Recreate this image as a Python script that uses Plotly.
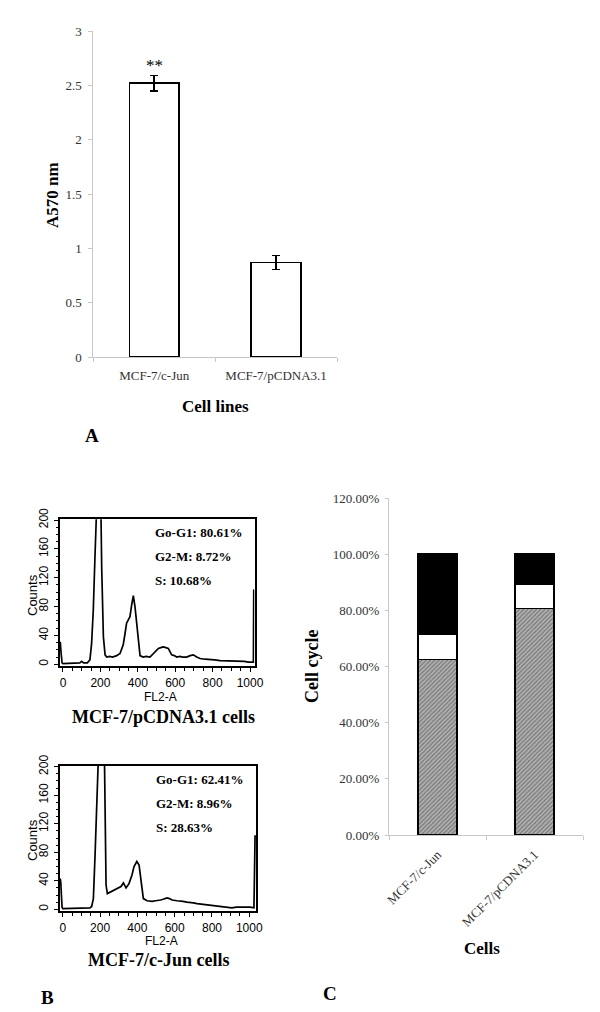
import plotly.graph_objects as go

# ---------------- data ----------------
cell_lines = ["MCF-7/c-Jun", "MCF-7/pCDNA3.1"]
a570 = [2.52, 0.87]
a570_err = [0.07, 0.065]

# flow cytometry histogram, MCF-7/pCDNA3.1 (channel, counts)
h1_channel = [-16, -14, -11, -8, -5, 0, 20, 45, 70, 90, 100, 110, 130, 144, 153, 162, 171, 176,
              183, 190, 197, 203, 207, 216, 225, 234, 250, 265, 287, 305, 322, 332, 340, 350,
              358, 367, 376, 385, 394, 403, 412, 428, 445, 465, 483, 497, 510, 523, 536, 550,
              563, 581, 595, 608, 625, 640, 661, 680, 697, 715, 733, 760, 786, 810, 840, 865,
              893, 920, 947, 970, 991, 1010, 1018, 1020, 1021]
h1_counts = [31, 30, 18, 6, 2, 1, 1, 2, 1, 2, 4, 2, 2, 6, 29, 75, 149, 210,
             240, 235, 240, 210, 133, 38, 13, 10, 11, 10, 12, 15, 27, 43, 57, 62,
             66, 82, 95, 80, 57, 29, 12, 10, 11, 10, 15, 18, 22, 23, 24, 23,
             22, 13, 12, 10, 11, 10, 10, 12, 13, 10, 8, 7, 6, 6, 5, 5,
             4, 5, 4, 4, 3, 3, 3, 103, 103]

# flow cytometry histogram, MCF-7/c-Jun (channel, counts)
h2_channel = [-15, -13, -11, -8, -4, 0, 40, 80, 120, 145, 155, 164, 173, 182, 191, 200, 210,
              223, 227, 232, 239, 253, 268, 280, 296, 312, 325, 339, 355, 371, 382, 397, 409,
              420, 432, 452, 479, 497, 511, 525, 538, 559, 572, 586, 612, 628, 644, 665, 682,
              700, 720, 752, 789, 810, 827, 850, 870, 907, 930, 950, 982, 1004, 1025, 1030, 1031]
h2_counts = [43, 42, 38, 20, 3, 1, 1, 1, 1, 2, 4, 15, 76, 142, 215, 240, 240,
             220, 123, 34, 22, 24, 26, 27, 30, 32, 37, 30, 36, 48, 60, 67, 62,
             40, 15, 12, 11, 12, 12, 13, 14, 16, 15, 13, 12, 12, 11, 10, 9,
             9, 8, 7, 6, 5, 4, 4, 3, 2, 3, 3, 4, 3, 2, 104, 104]

# cell cycle distribution (fractions)
g0g1 = [0.6241, 0.8061]
g2m = [0.0896, 0.0872]
s_phase = [0.2863, 0.1068]

a_ticks = [0, 0.5, 1, 1.5, 2, 2.5, 3]
a_ticktext = ["0", "0.5", "1", "1.5", "2", "2.5", "3"]
c_ticks = [0, 0.2, 0.4, 0.6, 0.8, 1.0, 1.2]
c_ticktext = ["0.00%", "20.00%", "40.00%", "60.00%", "80.00%", "100.00%", "120.00%"]
h_xticks = [0, 200, 400, 600, 800, 1000]
h_yticks = [0, 40, 80, 120, 160, 200]

# ---------------- figure ----------------
W, H = 600, 1012
SERIF = "Liberation Serif"
SANS = "Liberation Sans"


def px_x(p):
    return p / W


def px_y(p):
    return 1 - p / H


fig = go.Figure()

# Panel A
fig.add_trace(go.Bar(
    x=cell_lines, y=a570, width=0.41,
    marker=dict(color="white", line=dict(color="black", width=1.5)),
    error_y=dict(type="data", array=a570_err, color="black", thickness=1.5, width=4),
    xaxis="x", yaxis="y", showlegend=False))

# Panel B histograms
fig.add_trace(go.Scatter(x=h1_channel, y=h1_counts, mode="lines",
                         line=dict(color="black", width=1.7),
                         xaxis="x2", yaxis="y2", showlegend=False))
fig.add_trace(go.Scatter(x=h2_channel, y=h2_counts, mode="lines",
                         line=dict(color="black", width=1.7),
                         xaxis="x3", yaxis="y3", showlegend=False))

# Panel C stacked bars
fig.add_trace(go.Bar(
    x=cell_lines, y=g0g1, width=0.4, name="Go-G1",
    marker=dict(color="#a0a0a0", line=dict(color="black", width=1.5),
                pattern=dict(shape="/", fgcolor="#3c3c3c", bgcolor="#b2b2b2",
                             size=3, solidity=0.4)),
    xaxis="x4", yaxis="y4", showlegend=False))
fig.add_trace(go.Bar(
    x=cell_lines, y=g2m, width=0.4, name="G2-M",
    marker=dict(color="white", line=dict(color="black", width=1.5)),
    xaxis="x4", yaxis="y4", showlegend=False))
fig.add_trace(go.Bar(
    x=cell_lines, y=s_phase, width=0.4, name="S",
    marker=dict(color="black", line=dict(color="black", width=1.5)),
    xaxis="x4", yaxis="y4", showlegend=False))

light = "#c8c8c8"
tickfont_serif = dict(family=SERIF, size=13, color="#333")
hist_tickfont = dict(family=SANS, size=12, color="black")

common = dict(automargin=False, showgrid=False, zeroline=False)

layout_axes = dict(
    # Panel A
    xaxis=dict(domain=[px_x(93.3), px_x(337)], anchor="y", type="category",
               range=[-0.5, 1.5], showline=True, linecolor=light, linewidth=1,
               ticks="outside", tickson="boundaries", ticklen=4, tickcolor=light,
               tickfont=tickfont_serif, ticklabelstandoff=6, **common),
    yaxis=dict(domain=[px_y(357), px_y(31)], anchor="x", range=[0, 3],
               tickvals=a_ticks, ticktext=a_ticktext, showline=True, linecolor=light,
               linewidth=1, ticks="outside", ticklen=4, tickcolor=light,
               tickfont=tickfont_serif, ticklabelstandoff=4, **common),
    # Histogram 1
    xaxis2=dict(domain=[px_x(60), px_x(254.5)], anchor="y2", range=[-16, 1024],
                tickvals=h_xticks, showline=True, mirror=True, linecolor="black",
                linewidth=1.5, ticks="outside", ticklen=4, tickcolor="black",
                minor=dict(dtick=50, ticks="outside", ticklen=3, tickcolor="black"),
                tickfont=hist_tickfont, ticklabelstandoff=1, **common),
    yaxis2=dict(domain=[px_y(666), px_y(519.3)], anchor="x2", range=[-2.4, 201],
                tickvals=h_yticks, tickangle=-90, showline=True, mirror=True,
                linecolor="black", linewidth=1.5, ticks="outside", ticklen=4,
                tickcolor="black",
                minor=dict(dtick=10, ticks="outside", ticklen=2.5, tickcolor="black"),
                tickfont=hist_tickfont, ticklabelstandoff=1, **common),
    # Histogram 2
    xaxis3=dict(domain=[px_x(60), px_x(256)], anchor="y3", range=[-15, 1036],
                tickvals=h_xticks, showline=True, mirror=True, linecolor="black",
                linewidth=1.5, ticks="outside", ticklen=4, tickcolor="black",
                minor=dict(dtick=50, ticks="outside", ticklen=3, tickcolor="black"),
                tickfont=hist_tickfont, ticklabelstandoff=1, **common),
    yaxis3=dict(domain=[px_y(911), px_y(766)], anchor="x3", range=[-2.4, 201],
                tickvals=h_yticks, tickangle=-90, showline=True, mirror=True,
                linecolor="black", linewidth=1.5, ticks="outside", ticklen=4,
                tickcolor="black",
                minor=dict(dtick=10, ticks="outside", ticklen=2.5, tickcolor="black"),
                tickfont=hist_tickfont, ticklabelstandoff=1, **common),
    # Panel C
    xaxis4=dict(domain=[px_x(389), px_x(583)], anchor="y4", type="category",
                range=[-0.5, 1.5], showline=True, linecolor=light, linewidth=1,
                ticks="outside", tickson="boundaries", ticklen=4, tickcolor=light,
                tickangle=-45, tickfont=tickfont_serif, ticklabelstandoff=6, **common),
    yaxis4=dict(domain=[px_y(835), px_y(498)], anchor="x4", range=[0, 1.2],
                tickvals=c_ticks, ticktext=c_ticktext, showline=True, linecolor=light,
                linewidth=1, ticks="outside", ticklen=3, tickcolor=light,
                tickfont=tickfont_serif, ticklabelstandoff=3, **common),
)


def ann(text, x, y, size, family=SERIF, bold=True, angle=0, xanchor="center", color="black"):
    return dict(text=("<b>%s</b>" % text) if bold else text, x=px_x(x), y=px_y(y),
                xref="paper", yref="paper", showarrow=False, textangle=angle,
                xanchor=xanchor, yanchor="middle",
                font=dict(family=family, size=size, color=color))


annotations = [
    # Panel A
    ann("A570 nm", 52, 195, 17, angle=-90),
    ann("Cell lines", 215, 406, 17),
    ann("A", 92, 435, 19),
    dict(text="**", x=cell_lines[0], y=2.68, xref="x", yref="y", showarrow=False,
         yanchor="middle", font=dict(family=SERIF, size=17, color="black")),
    # Histogram 1
    ann("Counts", 32, 595, 13, family=SANS, bold=False, angle=-90),
    ann("FL2-A", 160, 697, 12, family=SANS, bold=False),
    ann("MCF-7/pCDNA3.1 cells", 163, 717, 18),
    ann("Go-G1: 80.61%", 152.7, 532.5, 13, xanchor="left"),
    ann("G2-M: 8.72%", 152.7, 556.5, 13, xanchor="left"),
    ann("S: 10.68%", 152.7, 580.5, 13, xanchor="left"),
    # Histogram 2
    ann("Counts", 32, 840, 13, family=SANS, bold=False, angle=-90),
    ann("FL2-A", 161, 941, 12, family=SANS, bold=False),
    ann("MCF-7/c-Jun cells", 158.5, 960, 18),
    ann("Go-G1: 62.41%", 154, 779, 13, xanchor="left"),
    ann("G2-M: 8.96%", 154, 803, 13, xanchor="left"),
    ann("S: 28.63%", 154, 827, 13, xanchor="left"),
    ann("B", 47, 997, 19),
    # Panel C
    ann("Cell cycle", 312, 667, 18, angle=-90),
    ann("Cells", 482, 948, 17),
    ann("C", 330, 993, 19),
]

fig.update_layout(
    width=W, height=H, margin=dict(l=0, r=0, t=0, b=0, pad=0, autoexpand=False),
    paper_bgcolor="white", plot_bgcolor="white",
    barmode="stack", bargap=0.6, showlegend=False,
    annotations=annotations, **layout_axes)

fig.write_html("out.html", config={"displayModeBar": False},
               post_script="document.body.style.margin='0px';")
